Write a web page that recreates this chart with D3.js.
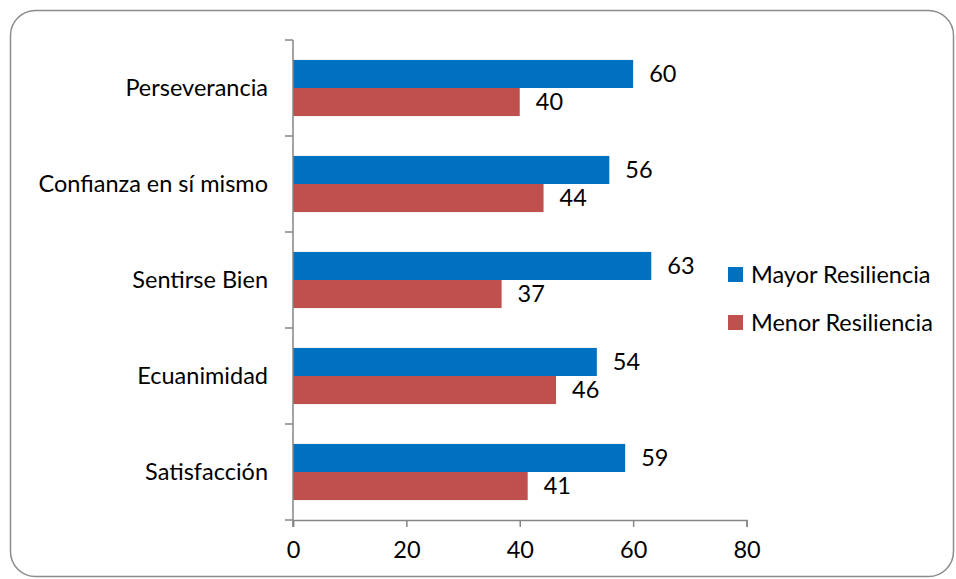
<!DOCTYPE html>
<html>
<head>
<meta charset="utf-8">
<script src="https://cdn.jsdelivr.net/npm/d3@7"></script>
<style>
  body { margin: 0; background: #fff; }
  text { font-family: Lato, "Open Sans", sans-serif; fill: #000; }
</style>
</head>
<body>
<div id="chart"></div>
<script>
// categories, top to bottom
let categories = ["Perseverancia", "Confianza en sí mismo", "Sentirse Bien", "Ecuanimidad", "Satisfacción"];
let seriesNames = ["Mayor Resiliencia", "Menor Resiliencia"];
let mayor = [60, 55.8, 63.2, 53.6, 58.6];
let menor = [40, 44.2, 36.8, 46.4, 41.4];
let xTicks = [0, 20, 40, 60, 80];

let width = 956, height = 579;
let colors = ["#0070c0", "#c0504d"];
let fontSize = "23.5px";

let svg = d3.select("#chart")
  .append("svg")
  .attr("width", width)
  .attr("height", height);

// outer rounded frame
svg.append("rect")
  .attr("x", 10.5).attr("y", 10.5)
  .attr("width", 943).attr("height", 566)
  .attr("rx", 25).attr("ry", 25)
  .attr("fill", "#fff")
  .attr("stroke", "#8c8c8c")
  .attr("stroke-width", 1.5);

let plot = { left: 293, top: 40, right: 746.5, bottom: 520 };

let x = d3.scaleLinear()
  .domain([0, 80])
  .range([plot.left, plot.right]);

let y = d3.scaleBand()
  .domain(categories)
  .range([plot.top, plot.bottom])
  .paddingInner(0)
  .paddingOuter(0);

let inner = d3.scaleBand()
  .domain(seriesNames)
  .range([0, y.bandwidth()])
  .paddingInner(0)
  .paddingOuter(0.71);

let rows = categories.map(function(c, i) {
  return { cat: c, values: [mayor[i], menor[i]] };
});

let fmt = d3.format(".0f");

let groups = svg.selectAll("g.row")
  .data(rows)
  .enter()
  .append("g")
  .attr("class", "row")
  .attr("transform", function(d) { return "translate(0," + y(d.cat) + ")"; });

groups.selectAll("rect")
  .data(function(d) { return d.values; })
  .enter()
  .append("rect")
  .attr("x", x(0))
  .attr("y", function(d, i) { return inner(seriesNames[i]); })
  .attr("width", function(d) { return x(d) - x(0); })
  .attr("height", inner.bandwidth())
  .attr("fill", function(d, i) { return colors[i]; });

groups.selectAll("text.val")
  .data(function(d) { return d.values; })
  .enter()
  .append("text")
  .attr("class", "val")
  .attr("x", function(d) { return x(d) + 16; })
  .attr("y", function(d, i) { return inner(seriesNames[i]) + inner.bandwidth() / 2; })
  .attr("dy", "0.36em")
  .style("font-size", fontSize)
  .text(function(d) { return fmt(d); });

// y axis
let yAxis = svg.append("g")
  .attr("transform", "translate(" + plot.left + ",0)");
yAxis.append("line")
  .attr("x1", 0).attr("x2", 0)
  .attr("y1", plot.top).attr("y2", plot.bottom + 7)
  .attr("stroke", "#868686").attr("stroke-width", 1.5);
let yTickPos = categories.map(function(c) { return y(c); }).concat([plot.bottom]);
yAxis.selectAll("line.tick")
  .data(yTickPos)
  .enter()
  .append("line")
  .attr("class", "tick")
  .attr("x1", -8).attr("x2", 0)
  .attr("y1", function(d) { return d; })
  .attr("y2", function(d) { return d; })
  .attr("stroke", "#868686").attr("stroke-width", 1.5);
yAxis.selectAll("text")
  .data(categories)
  .enter()
  .append("text")
  .attr("x", -25)
  .attr("y", function(d) { return y(d) + y.bandwidth() / 2; })
  .attr("dy", "0.36em")
  .attr("text-anchor", "end")
  .style("font-size", fontSize)
  .text(function(d) { return d; });

// x axis
let xAxis = svg.append("g")
  .attr("transform", "translate(0," + plot.bottom + ")")
  .call(d3.axisBottom(x).tickValues(xTicks).tickSize(7).tickPadding(14).tickFormat(d3.format("d")));
xAxis.select(".domain").attr("stroke", "#868686").attr("stroke-width", 1.5);
xAxis.selectAll(".tick line").attr("stroke", "#868686").attr("stroke-width", 1.5);
xAxis.selectAll(".tick text")
  .style("font-size", fontSize)
  .style("font-family", "Lato, 'Open Sans', sans-serif")
  .attr("fill", "#000");

// legend
let legend = svg.append("g")
  .attr("transform", "translate(728,267)");
let items = legend.selectAll("g")
  .data(seriesNames)
  .enter()
  .append("g")
  .attr("transform", function(d, i) { return "translate(0," + i * 48 + ")"; });
items.append("rect")
  .attr("width", 15).attr("height", 15)
  .attr("fill", function(d, i) { return colors[i]; });
items.append("text")
  .attr("x", 23)
  .attr("y", 7.5)
  .attr("dy", "0.36em")
  .style("font-size", fontSize)
  .text(function(d) { return d; });
</script>
</body>
</html>
